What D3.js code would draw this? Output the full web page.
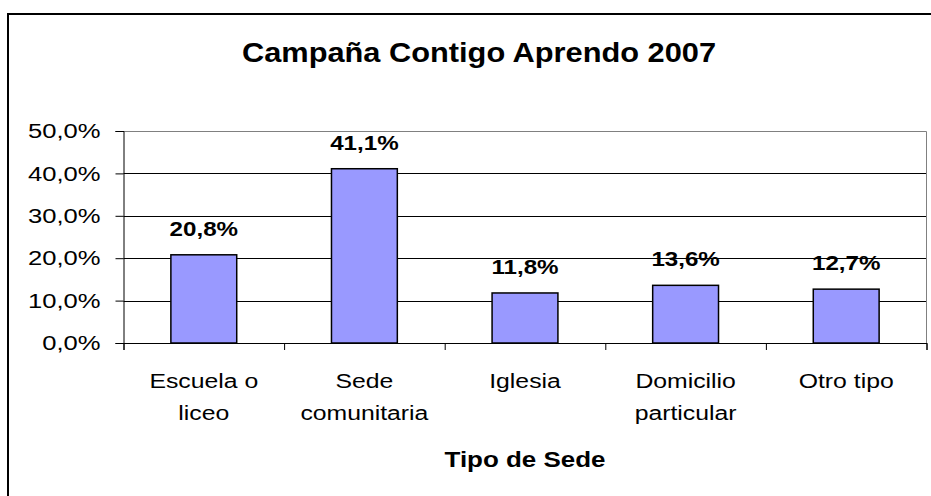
<!DOCTYPE html>
<html>
<head>
<meta charset="utf-8">
<script src="https://cdn.jsdelivr.net/npm/d3@7"></script>
<style>
  body { margin: 0; background: #fff; }
  text { font-family: Arial, "Liberation Sans", sans-serif; fill: #000; }
</style>
</head>
<body>
<div class="barchart"></div>
<script>
// data
const categories = ["Escuela o|liceo", "Sede|comunitaria", "Iglesia", "Domicilio|particular", "Otro tipo"];
const values = [0.208, 0.411, 0.118, 0.136, 0.127];
const yTicks = [0, 0.1, 0.2, 0.3, 0.4, 0.5];
const title = "Campaña Contigo Aprendo 2007";
const xTitle = "Tipo de Sede";

const W = 931, H = 496;
// the source picture is stretched sideways a bit, so text gets scaled on x
const sx = 1.18;

const plot = {left: 123.5, right: 926.5, top: 131, bottom: 343};

const svg = d3.select(".barchart").append("svg")
  .attr("width", W)
  .attr("height", H);

// outer frame (runs off the right and bottom edge)
svg.append("rect")
  .attr("x", 8).attr("y", 14)
  .attr("width", 950).attr("height", 500)
  .attr("fill", "none")
  .attr("stroke", "#000")
  .attr("stroke-width", 2);

const x = d3.scaleBand()
  .domain(categories)
  .range([plot.left, plot.right])
  .paddingInner(0.59)
  .paddingOuter(0.295);

const y = d3.scaleLinear()
  .domain([0, 0.5])
  .range([plot.bottom, plot.top]);

const fmt = d => (d * 100).toFixed(1).replace(".", ",") + "%";

// gridlines
svg.append("g")
  .selectAll("line")
  .data(yTicks.filter(d => d > 0 && d < 0.5))
  .join("line")
    .attr("x1", plot.left).attr("x2", plot.right)
    .attr("y1", d => Math.round(y(d)) + 0.5)
    .attr("y2", d => Math.round(y(d)) + 0.5)
    .attr("stroke", "#000");

// plot area border top / right
svg.append("path")
  .attr("d", `M${plot.left},${Math.round(plot.top) + 0.5}H${plot.right}V${plot.bottom}`)
  .attr("fill", "none")
  .attr("stroke", "#808080");

// bars
svg.append("g")
  .selectAll("rect")
  .data(values)
  .join("rect")
    .attr("x", (d, i) => x(categories[i]))
    .attr("y", d => y(d))
    .attr("width", x.bandwidth())
    .attr("height", d => y(0) - y(d))
    .attr("fill", "#9999FF")
    .attr("stroke", "#000")
    .attr("stroke-width", 1.5);

// value labels
svg.append("g")
  .selectAll("text")
  .data(values)
  .join("text")
    .attr("transform", (d, i) =>
      `translate(${x(categories[i]) + x.bandwidth() / 2},${y(d) - 19}) scale(1.15,1)`)
    .attr("text-anchor", "middle")
    .style("font-size", "21px")
    .style("font-weight", "bold")
    .text(fmt);

// y axis
const ySx = 1.22;
const yAxis = d3.axisLeft(y)
  .tickValues(yTicks)
  .tickFormat(fmt)
  .tickSize(8)
  .tickPadding(15);

const gy = svg.append("g")
  .attr("transform", `translate(${plot.left},0)`)
  .call(yAxis);
gy.select(".domain").attr("stroke", "#000");
gy.selectAll(".tick line").attr("stroke", "#000");
gy.selectAll(".tick text")
  .attr("x", -23 / ySx)
  .attr("transform", `scale(${ySx},1)`)
  .style("font-size", "21px")
  .style("font-family", "Arial, 'Liberation Sans', sans-serif");

// x axis: ticks sit on the category boundaries
const xEdge = d3.scaleLinear()
  .domain([0, categories.length])
  .range([plot.left, plot.right]);

const gx = svg.append("g")
  .attr("transform", `translate(0,${plot.bottom})`)
  .call(d3.axisBottom(xEdge).ticks(categories.length).tickFormat("").tickSize(7).tickSizeOuter(7));
gx.select(".domain").attr("stroke", "#000");
gx.selectAll(".tick line").attr("stroke", "#000");

// category labels
const gxl = svg.append("g")
  .attr("transform", `translate(0,${plot.bottom})`)
  .call(d3.axisBottom(x).tickSize(0).tickFormat(""));
gxl.select(".domain").remove();

gxl.selectAll(".tick").each(function(d) {
  const t = d3.select(this).append("text")
    .attr("transform", `scale(${sx},1)`)
    .attr("text-anchor", "middle")
    .style("font-size", "21px");
  d.split("|").forEach((s, k) => {
    t.append("tspan")
      .attr("x", 0)
      .attr("y", 45 + k * 32)
      .text(s);
  });
});

// title
svg.append("text")
  .attr("transform", `translate(479,61.5) scale(1.14,1)`)
  .attr("text-anchor", "middle")
  .style("font-size", "27px")
  .style("font-weight", "bold")
  .text(title);

// x axis title
svg.append("text")
  .attr("transform", `translate(${(plot.left + plot.right) / 2},466.5) scale(${sx},1)`)
  .attr("text-anchor", "middle")
  .style("font-size", "22px")
  .style("font-weight", "bold")
  .text(xTitle);
</script>
</body>
</html>
